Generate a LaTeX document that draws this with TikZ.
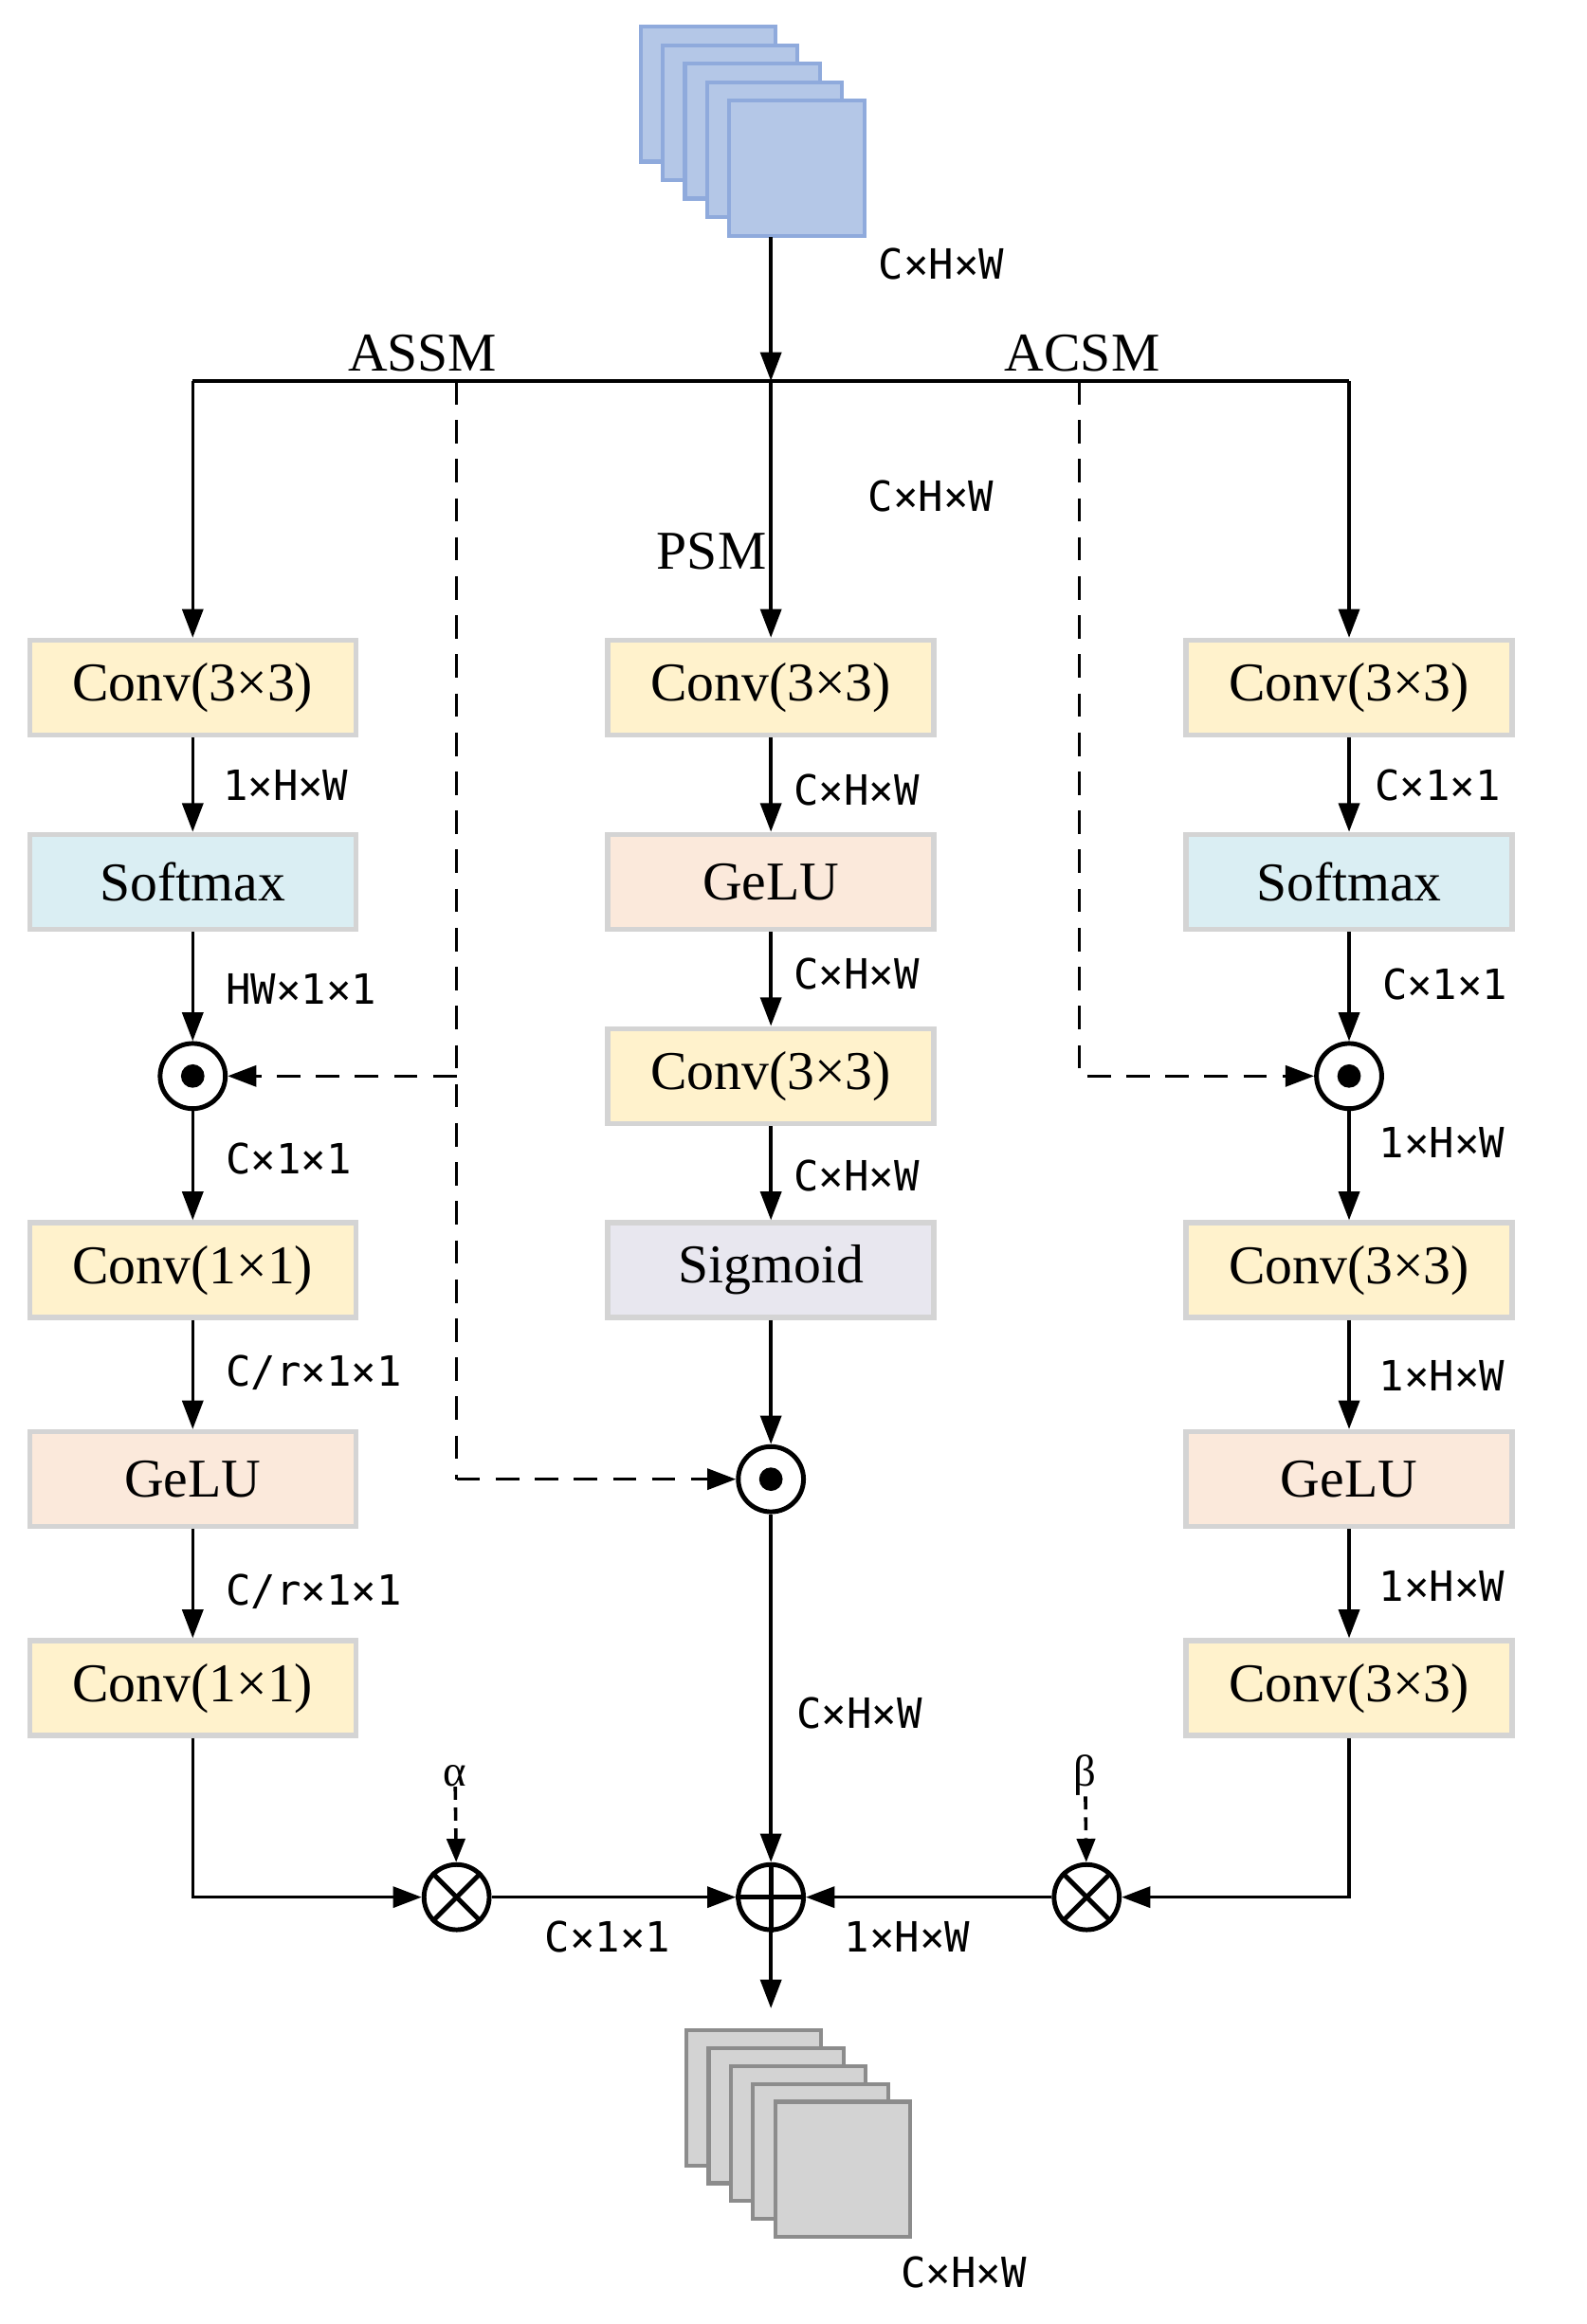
\documentclass[tikz,border=0pt]{standalone}
\usepackage{fontspec}
\setmainfont{Liberation Serif}
\newfontfamily\lblfont{DejaVu Sans Mono}
\usetikzlibrary{arrows.meta}
\definecolor{cyel}{HTML}{FFF2CC}
\definecolor{cblu}{HTML}{DAEEF3}
\definecolor{cora}{HTML}{FBE9DB}
\definecolor{cgry}{HTML}{E8E7EF}
\definecolor{bdr}{HTML}{D4D4D4}
\definecolor{sqb}{HTML}{B4C7E7}
\definecolor{sqbd}{HTML}{8FAADC}
\definecolor{sqg}{HTML}{D3D3D3}
\definecolor{sqgd}{HTML}{8C8C8C}
\begin{document}
\begin{tikzpicture}[x=0.02cm,y=-0.02cm,
  box/.style={draw=bdr,line width=2pt,minimum width=4.4cm,minimum height=1.28cm,inner sep=0pt,font=\fontsize{21}{24}\selectfont},
  lbl/.style={font=\lblfont\fontsize{16}{18}\selectfont,inner sep=0pt},
  tl/.style={font=\fontsize{21}{24}\selectfont,inner sep=0pt},
  arr/.style={line width=1.3pt,-{Triangle[length=11pt,width=8pt]}},
  ln/.style={line width=1.3pt},
  dsh/.style={line width=1.3pt,dash pattern=on 9pt off 6pt},
  circ/.style={draw,circle,line width=1.8pt,minimum size=0.88cm,inner sep=0pt}]
\useasboundingbox (0,0) rectangle (1070,1568);
% input stack
\foreach \i in {0,...,4}{
  \fill[sqb,draw=sqbd,line width=1.5pt] (432+15*\i,18+12.5*\i) rectangle ++(91,91);}
\coordinate (inb) at (520,160);
\node[lbl] at (635,178) {C×H×W};
\coordinate (split) at (520,257);
\draw[arr] (inb) -- (split);
\coordinate (L0) at (130,257); \coordinate (R0) at (910,257);
\draw[ln] (L0) -- (R0);
\node[tl] at (285,238) {ASSM};
\node[tl] at (730,238) {ACSM};
% left column
\node[box,fill=cyel] (l1) at (130,464) {Conv(3×3)};
\node[box,fill=cblu] (l2) at (130,595) {Softmax};
\node[circ] (l3) at (130,726) {};
\fill (l3) circle (4.5pt);
\node[box,fill=cyel] (l4) at (130,857) {Conv(1×1)};
\node[box,fill=cora] (l5) at (130,998) {GeLU};
\node[box,fill=cyel] (l6) at (130,1139) {Conv(1×1)};
\draw[arr] (L0) -- (l1);
\draw[arr] (l1) -- (l2); \node[lbl,anchor=west] at (150,530) {1×H×W};
\draw[arr] (l2) -- (l3); \node[lbl,anchor=west] at (152,667) {HW×1×1};
\draw[arr] (l3) -- (l4); \node[lbl,anchor=west] at (152,782) {C×1×1};
\draw[arr] (l4) -- (l5); \node[lbl,anchor=west] at (152,926) {C/r×1×1};
\draw[arr] (l5) -- (l6); \node[lbl,anchor=west] at (152,1074) {C/r×1×1};
% middle column
\node[box,fill=cyel] (m1) at (520,464) {Conv(3×3)};
\node[box,fill=cora] (m2) at (520,595) {GeLU};
\node[box,fill=cyel] (m3) at (520,726) {Conv(3×3)};
\node[box,fill=cgry] (m4) at (520,857) {Sigmoid};
\node[circ] (m5) at (520,998) {};
\fill (m5) circle (4.5pt);
\draw[arr] (split) -- (m1);
\node[lbl] at (628,335) {C×H×W};
\node[tl] at (480,372) {PSM};
\draw[arr] (m1) -- (m2); \node[lbl,anchor=west] at (535,533) {C×H×W};
\draw[arr] (m2) -- (m3); \node[lbl,anchor=west] at (535,657) {C×H×W};
\draw[arr] (m3) -- (m4); \node[lbl,anchor=west] at (535,793) {C×H×W};
\draw[arr] (m4) -- (m5);
% right column
\node[box,fill=cyel] (r1) at (910,464) {Conv(3×3)};
\node[box,fill=cblu] (r2) at (910,595) {Softmax};
\node[circ] (r3) at (910,726) {};
\fill (r3) circle (4.5pt);
\node[box,fill=cyel] (r4) at (910,857) {Conv(3×3)};
\node[box,fill=cora] (r5) at (910,998) {GeLU};
\node[box,fill=cyel] (r6) at (910,1139) {Conv(3×3)};
\draw[arr] (R0) -- (r1);
\draw[arr] (r1) -- (r2); \node[lbl,anchor=west] at (927,530) {C×1×1};
\draw[arr] (r2) -- (r3); \node[lbl,anchor=west] at (932,664) {C×1×1};
\draw[arr] (r3) -- (r4); \node[lbl,anchor=west] at (930,771) {1×H×W};
\draw[arr] (r4) -- (r5); \node[lbl,anchor=west] at (930,928) {1×H×W};
\draw[arr] (r5) -- (r6); \node[lbl,anchor=west] at (930,1070) {1×H×W};
% dashed
\coordinate (dl0) at (308,257); \coordinate (dl1) at (308,998); \coordinate (dlm) at (308,726);
\draw[dsh] (dl0) -- (dl1);
\draw[dsh,-{Triangle[length=11pt,width=8pt]}] (dl1) -- (m5);
\draw[dsh,-{Triangle[length=11pt,width=8pt]}] (dlm) -- (l3);
\coordinate (dr0) at (728,257); \coordinate (dr1) at (728,726);
\draw[dsh,-{Triangle[length=11pt,width=8pt]},rounded corners=0pt] (dr0) -- (dr1) -- (r3);
% bottom
\node[circ] (xa) at (308,1280) {};
\draw[line width=1.8pt] (xa.north west) -- (xa.south east) (xa.north east) -- (xa.south west);
\node[circ] (xb) at (733,1280) {};
\draw[line width=1.8pt] (xb.north west) -- (xb.south east) (xb.north east) -- (xb.south west);
\node[circ] (pl) at (520,1280) {};
\draw[line width=1.8pt] (pl.north) -- (pl.south) (pl.west) -- (pl.east);
\node[font=\fontsize{17}{20}\selectfont,inner sep=0pt] (al) at (307,1198) {α};
\node[font=\fontsize{17}{20}\selectfont,inner sep=0pt] (be) at (732,1198) {β};
\draw[dsh,-{Triangle[length=9pt,width=7pt]},dash pattern=on 5pt off 3pt] (al) -- (xa);
\draw[dsh,-{Triangle[length=9pt,width=7pt]},dash pattern=on 5pt off 3pt] (be) -- (xb);
\draw[arr] (l6.south) |- (xa);
\draw[arr] (r6.south) |- (xb);
\draw[arr] (xa) -- (pl); \node[lbl] at (410,1307) {C×1×1};
\draw[arr] (xb) -- (pl); \node[lbl] at (612,1307) {1×H×W};
\draw[arr] (m5) -- (pl); \node[lbl,anchor=west] at (537,1156) {C×H×W};
\coordinate (outt) at (520,1355);
\draw[arr] (pl) -- (outt);
\foreach \i in {0,...,4}{
  \fill[sqg,draw=sqgd,line width=1.5pt] (463+15*\i,1370+12*\i) rectangle ++(91,91);}
\node[lbl] at (650,1533) {C×H×W};
\end{tikzpicture}
\end{document}
